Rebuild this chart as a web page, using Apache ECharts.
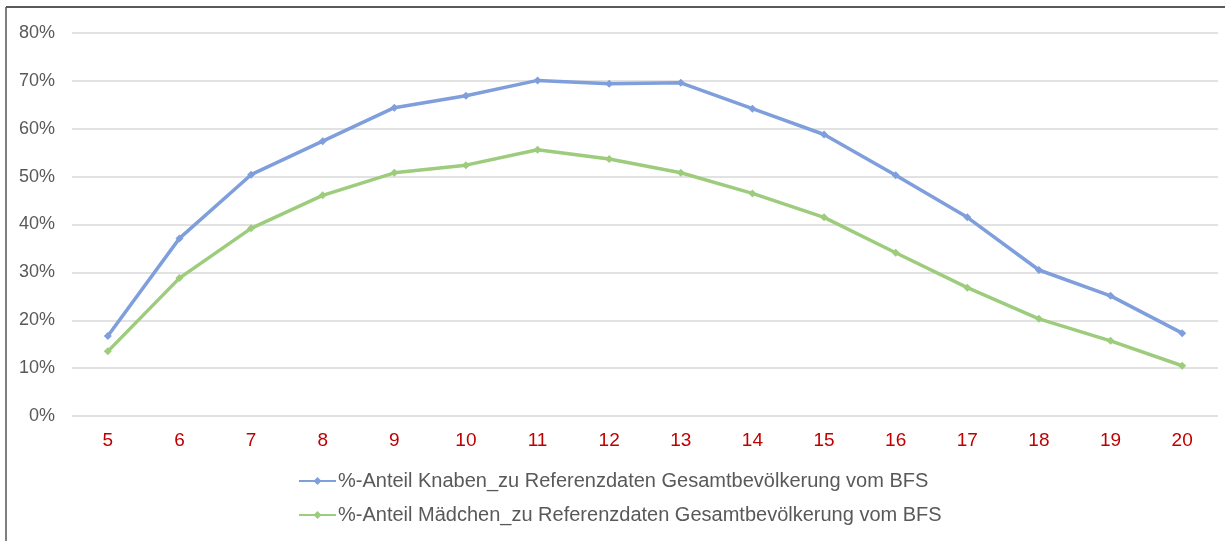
<!DOCTYPE html>
<html lang="de">
<head>
    <meta charset="UTF-8">
    <title>Anteil Knaben / Mädchen</title>
    <script src="https://cdn.jsdelivr.net/npm/echarts@6/dist/echarts.min.js"></script>
    <style>
        html, body {margin: 0; padding: 0; background: #fff;}
        #chart {width: 1225px; height: 541px;}
    </style>
</head>
<body>
<div id="chart"></div>
<script type="text/javascript">
    // Alter (Jahre)
    var ages = ['5', '6', '7', '8', '9', '10', '11', '12', '13', '14', '15', '16', '17', '18', '19', '20'];
    // %-Anteil Knaben
    var boys = [16.7, 37.1, 50.4, 57.4, 64.4, 66.9, 70.1, 69.4, 69.6, 64.2, 58.8, 50.3, 41.5, 30.5, 25.1, 17.3];
    // %-Anteil Mädchen
    var girls = [13.5, 28.8, 39.2, 46.1, 50.8, 52.4, 55.6, 53.7, 50.8, 46.5, 41.5, 34.1, 26.8, 20.3, 15.7, 10.5];
    var seriesNames = [
        '%-Anteil Knaben_zu Referenzdaten Gesamtbevölkerung vom BFS',
        '%-Anteil Mädchen_zu Referenzdaten Gesamtbevölkerung vom BFS'
    ];

    var fontFamily = '"Liberation Sans", Arial, sans-serif';
    var chart = echarts.init(document.getElementById('chart'));

    function lineSeries(name, data, color) {
        return {
            name: name,
            type: 'line',
            data: data,
            symbol: 'diamond',
            symbolSize: 8,
            lineStyle: {color: color, width: 3.5},
            itemStyle: {color: color},
            animation: false
        };
    }

    chart.setOption({
        animation: false,
        textStyle: {fontFamily: fontFamily},
        grid: {left: 72, right: 7, top: 33, bottom: 125},
        graphic: [
            {type: 'line', shape: {x1: 6, y1: 7, x2: 1225, y2: 7}, style: {stroke: '#222', lineWidth: 1.5}},
            {type: 'line', shape: {x1: 6, y1: 7, x2: 6, y2: 541}, style: {stroke: '#555', lineWidth: 1.5}}
        ],
        legend: {
            orient: 'vertical',
            left: 298,
            top: 471,
            padding: 0,
            itemGap: 14,
            itemWidth: 37,
            itemHeight: 10,
            textStyle: {fontSize: 20, color: '#595959', fontFamily: fontFamily, padding: [0, 0, 0, -3]},
            data: seriesNames
        },
        xAxis: {
            type: 'category',
            data: ages,
            boundaryGap: true,
            axisLine: {show: false},
            axisTick: {show: false},
            axisLabel: {color: '#c00000', fontSize: 19, margin: 15, fontFamily: fontFamily}
        },
        yAxis: {
            type: 'value',
            min: 0,
            max: 80,
            interval: 10,
            axisLine: {show: false},
            axisTick: {show: false},
            axisLabel: {
                color: '#595959', fontSize: 18, margin: 17, fontFamily: fontFamily,
                formatter: function (v) { return v + '%'; }
            },
            splitLine: {lineStyle: {color: '#d9d9d9', width: 1.5}}
        },
        series: [
            lineSeries(seriesNames[0], boys, '#7f9edc'),
            lineSeries(seriesNames[1], girls, '#9ccc7c')
        ]
    });
</script>
</body>
</html>
